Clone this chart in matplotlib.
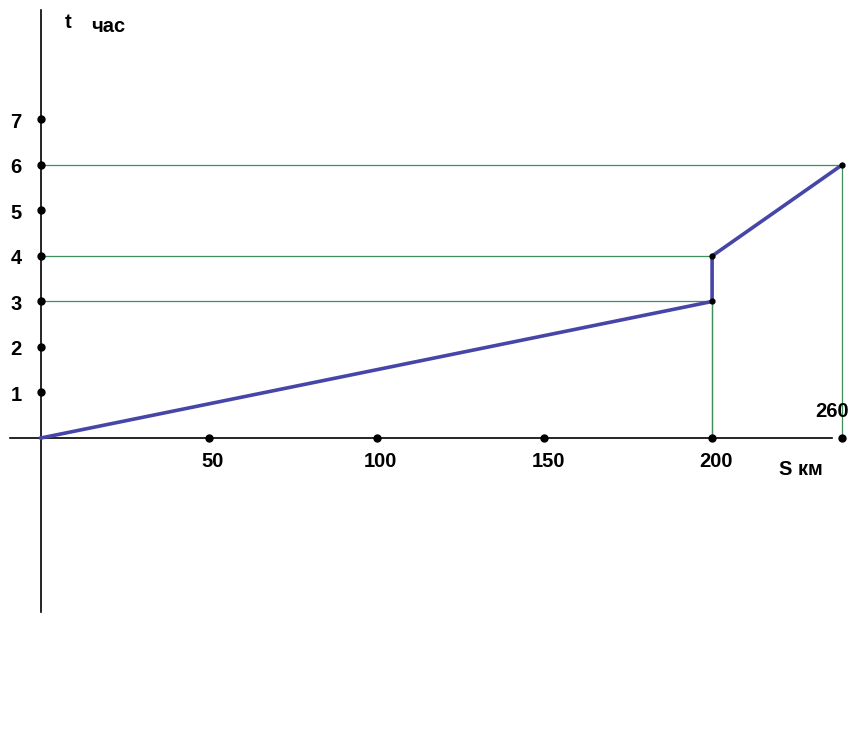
import matplotlib
matplotlib.use("Agg")
import matplotlib.pyplot as plt
import numpy as np

# path of the trip: distance (km) vs time (h)
s_km = [0, 200, 200, 260]
t_h = [0, 3, 4, 6]

x_ticks = [50, 100, 150, 200, 260]
y_ticks = [1, 2, 3, 4, 5, 6, 7]

# guide lines from the axes to the path corners
guide_t = [3, 4, 6]
guide_s = [200, 200, 260]

plt.rcParams['font.family'] = ['Liberation Sans', 'DejaVu Sans']
plt.rcParams['font.weight'] = 'bold'

# the sketch squeezes the last stretch (200..260 km)
k = 0.645
def fwd(x):
    x = np.asarray(x, dtype=float)
    return np.where(x <= 200, x, 200 + (x - 200) * k)
def inv(u):
    u = np.asarray(u, dtype=float)
    return np.where(u <= 200, u, 200 + (u - 200) / k)

fig = plt.figure(figsize=(8.5, 7.54), dpi=100)
ax = fig.add_axes([0, 0, 1, 1])
ax.set_xscale('function', functions=(fwd, inv))
ax.set_xlim(-12.22, float(inv(241.1)))
ax.set_ylim(-6.945, 9.626)
ax.axis('off')

# axes drawn by hand
ax.plot([0, 0], [-3.82, 9.4], color='black', lw=1.2, zorder=2)
ax.plot([-9.2, 255.5], [0, 0], color='black', lw=1.2, zorder=2)

green = '#3f8f5c'
for t, s in zip(guide_t, guide_s):
    ax.plot([0, s], [t, t], color=green, lw=0.9, zorder=1)
    ax.plot([s, s], [0, t], color=green, lw=0.9, zorder=1)

ax.plot(s_km, t_h, color='#4646a8', lw=2.6, zorder=3, solid_joinstyle='miter')
ax.plot(s_km[1:], t_h[1:], 'o', color='black', ms=3.5, zorder=4)

ax.plot(x_ticks, [0] * len(x_ticks), 'o', color='black', ms=5, zorder=4)
ax.plot([0] * len(y_ticks), y_ticks, 'o', color='black', ms=5, zorder=4)

fs = 14.5
for v in x_ticks:
    if v == 260:
        ax.annotate(str(v), (v, 0), xytext=(-7, 19), textcoords='offset points',
                    ha='center', va='center', fontsize=fs)
    else:
        ax.annotate(str(v), (v, 0), xytext=(3, -17), textcoords='offset points',
                    ha='center', va='center', fontsize=fs)

for v in y_ticks:
    ax.annotate(str(v), (0, v), xytext=(-14, -2), textcoords='offset points',
                ha='right', va='center', fontsize=fs)

fig.text(65 / 850, 1 - 22 / 754, 't', ha='left', va='center', fontsize=fs)
fig.text(91 / 850, 1 - 26 / 754, 'час', ha='left', va='center', fontsize=fs)
fig.text(779 / 850, 1 - 470 / 754, 'S км', ha='left', va='center', fontsize=fs)

fig.savefig('out.png', dpi=100)
